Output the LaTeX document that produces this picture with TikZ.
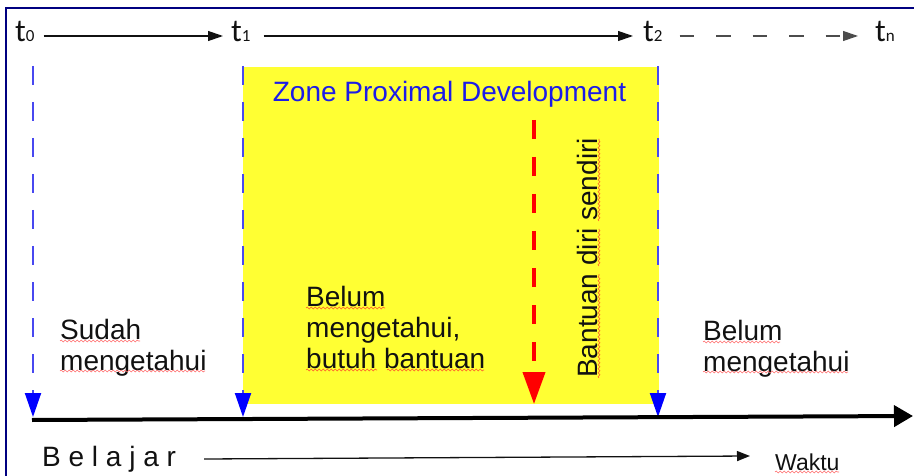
\documentclass[tikz,border=0pt]{standalone}
\usepackage{fontspec}
\setmainfont{Liberation Sans}
\newfontfamily\tfont{Carlito}
\usetikzlibrary{arrows.meta,decorations.pathmorphing}
\definecolor{frameblue}{HTML}{000080}
\definecolor{zpdyellow}{HTML}{FFFF33}
\definecolor{guideblue}{HTML}{4848F0}
\definecolor{tipblue}{HTML}{0000FF}
\definecolor{titleblue}{HTML}{1C1CE8}
\definecolor{spellred}{HTML}{FF6A6A}
\definecolor{spellorange}{HTML}{FF5A2A}
\definecolor{ink}{HTML}{111111}
\newcommand{\tmark}[1]{t{\fontsize{17}{17}\selectfont #1}}

\begin{document}
\begin{tikzpicture}[x=1pt,y=-1pt,
  body/.style={font=\fontsize{28}{31}\selectfont, text=ink, inner sep=0pt, align=left},
  tlabel/.style={font=\tfont\fontsize{32}{32}\selectfont, text=ink, inner sep=0pt, anchor=base west},
  timearrow/.style={line width=1.2pt, draw=ink, -{Triangle[length=15pt,width=10pt]}},
  guide/.style={line width=2pt, draw=guideblue, dash pattern=on 19pt off 17pt,
    -{Triangle[length=24pt,width=16pt,color=tipblue]}},
  spell/.style={draw=spellred, line width=0.6pt, decorate,
    decoration={snake, segment length=4pt, amplitude=0.9pt}},
]
\useasboundingbox (0,0) rectangle (914,476);

% frame on the left and top edges
\draw[frameblue, line width=2pt] (6,476) -- (6,8) -- (914,8);

% zone of proximal development
\fill[zpdyellow] (243,67) rectangle (659,404);
\node[font=\fontsize{28}{28}\selectfont, text=titleblue, anchor=base, inner sep=0pt]
  (zpd) at (449.5,102) {Zone Proximal Development};

% time marks along the top
\node[tlabel] (t0) at (15,42) {\tmark{0}};
\node[tlabel] (t1) at (231,42) {\tmark{1}};
\node[tlabel] (t2) at (643,42) {\tmark{2}};
\node[tlabel] (tn) at (875,42) {\tmark{n}};
\draw[timearrow] ([xshift=9pt,yshift=6pt]t0.base east) -- ([xshift=-8pt,yshift=6pt]t1.base west);
\draw[timearrow] ([xshift=13pt,yshift=6pt]t1.base east) -- ([xshift=-10pt,yshift=6pt]t2.base west);
\draw[timearrow, draw=ink!75, dash pattern=on 14.5pt off 22pt] ([xshift=17pt,yshift=6pt]t2.base east) -- ([xshift=-17pt,yshift=6pt]tn.base west);

% vertical guides dropping onto the time axis
\coordinate (g0top) at (33,66);   \coordinate (g0bot) at (33,417);
\coordinate (g1top) at (243,66);  \coordinate (g1bot) at (243,417);
\coordinate (g2top) at (658,66);  \coordinate (g2bot) at (658,417);
\draw[guide] (g0top) -- (g0bot);
\draw[guide] (g1top) -- (g1bot);
\draw[guide] (g2top) -- (g2bot);

% own-help marker
\coordinate (rtop) at (534,120); \coordinate (rbot) at (534,404);
\draw[line width=4pt, draw=red, dash pattern=on 19pt off 18pt,
  -{Triangle[length=32pt,width=22pt,color=red]}] (rtop) -- (rbot);

% main time axis
\coordinate (axisL) at (32,420); \coordinate (axisR) at (913,416);
\draw[line width=4pt, draw=black, -{Triangle[length=19pt,width=21pt]}] (axisL) -- (axisR);

% region texts
\node[body, anchor=north west] (known) at (60,319) {Sudah\\mengetahui};
\node[body, anchor=north west] (helped) at (306,286) {Belum\\mengetahui,\\butuh bantuan};
\node[body, anchor=north west] (unknown) at (703,320) {Belum\\mengetahui};
\node[body, rotate=90, anchor=base west] (self) at (597,378) {Bantuan diri sendiri};

% bottom caption
\node[body, anchor=base west] (belajar) at (42,466) {B e l a j a r};
\node[font=\fontsize{23}{23}\selectfont, text=ink, inner sep=0pt, anchor=base west]
  (waktu) at (775,470) {Waktu};
\draw[line width=1.3pt, draw=ink, -{Triangle[length=13pt,width=10pt]}]
  ([xshift=28pt,yshift=7pt]belajar.base east) -- ([xshift=-25pt,yshift=14pt]waktu.base west);

% wavy underlines
\draw[spell] (60,341) -- (140,341);
\draw[spell] (60,371) -- (205,371);
\draw[spell] (703,342) -- (780,342);
\draw[spell] (703,372) -- (848,372);
\draw[spell, draw=spellorange] (306,308) -- (385,308);
\draw[spell, draw=spellorange] (306,370) -- (377,370);
\draw[spell, draw=spellorange] (387,370) -- (484,370);
\draw[spell, draw=spellorange] (599,378) -- (599,274);
\draw[spell, draw=spellorange] (599,266) -- (599,229);
\draw[spell, draw=spellorange] (599,221) -- (599,139);
\draw[spell] (775,472) -- (839,472);
\end{tikzpicture}
\end{document}
